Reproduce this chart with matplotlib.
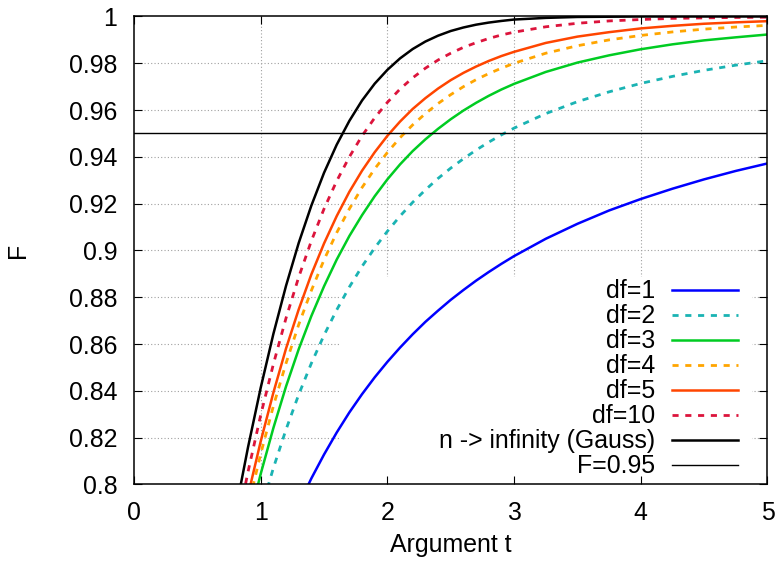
import matplotlib
matplotlib.use("Agg")
import matplotlib.pyplot as plt
from matplotlib.patches import Rectangle
from matplotlib.lines import Line2D

plt.rcParams['font.family'] = ['Liberation Sans', 'DejaVu Sans']

# argument t and read-off values of F for each curve
t = [0.8, 0.9, 1.0, 1.1, 1.2, 1.3, 1.4, 1.5, 1.6, 1.7, 1.8, 1.9, 2.0, 2.1, 2.2, 2.3,
     2.4, 2.5, 2.6, 2.7, 2.8, 2.9, 3.0, 3.25, 3.5, 3.75, 4.0, 4.25, 4.5, 4.75, 5.0]

df1 = [0.7148, 0.7333, 0.7500, 0.7652, 0.7789, 0.7913, 0.8026, 0.8128, 0.8222, 0.8308, 0.8386,
       0.8458, 0.8524, 0.8585, 0.8642, 0.8695, 0.8743, 0.8789, 0.8831, 0.8871, 0.8908, 0.8943,
       0.8976, 0.9050, 0.9114, 0.9171, 0.9220, 0.9264, 0.9304, 0.9340, 0.9372]
df2 = [0.7462, 0.7684, 0.7887, 0.8070, 0.8235, 0.8384, 0.8518, 0.8638, 0.8746, 0.8844, 0.8932,
       0.9011, 0.9082, 0.9147, 0.9206, 0.9259, 0.9308, 0.9352, 0.9392, 0.9429, 0.9463, 0.9494,
       0.9523, 0.9585, 0.9636, 0.9678, 0.9714, 0.9744, 0.9770, 0.9792, 0.9811]
df3 = [0.7589, 0.7828, 0.8045, 0.8241, 0.8419, 0.8578, 0.8720, 0.8847, 0.8961, 0.9062, 0.9151,
       0.9232, 0.9304, 0.9368, 0.9425, 0.9475, 0.9520, 0.9561, 0.9598, 0.9631, 0.9661, 0.9688,
       0.9712, 0.9763, 0.9803, 0.9834, 0.9860, 0.9881, 0.9898, 0.9911, 0.9923]
df4 = [0.7657, 0.7905, 0.8130, 0.8335, 0.8518, 0.8683, 0.8829, 0.8960, 0.9076, 0.9178, 0.9269,
       0.9349, 0.9419, 0.9482, 0.9537, 0.9585, 0.9628, 0.9666, 0.9700, 0.9730, 0.9756, 0.9779,
       0.9800, 0.9843, 0.9875, 0.9900, 0.9919, 0.9934, 0.9946, 0.9955, 0.9962]
df5 = [0.7700, 0.7954, 0.8184, 0.8392, 0.8581, 0.8748, 0.8898, 0.9030, 0.9147, 0.9251, 0.9341,
       0.9420, 0.9490, 0.9551, 0.9605, 0.9651, 0.9692, 0.9728, 0.9759, 0.9786, 0.9810, 0.9831,
       0.9849, 0.9887, 0.9914, 0.9933, 0.9949, 0.9960, 0.9969, 0.9975, 0.9980]
df10 = [0.7789, 0.8054, 0.8296, 0.8514, 0.8711, 0.8886, 0.9041, 0.9178, 0.9297, 0.9400, 0.9490,
        0.9567, 0.9633, 0.9690, 0.9738, 0.9779, 0.9814, 0.9843, 0.9868, 0.9888, 0.9906, 0.9921,
        0.9933, 0.9956, 0.9971, 0.9981, 0.9987, 0.9992, 0.9994, 0.9996, 0.9997]
gauss = [0.7881, 0.8159, 0.8413, 0.8643, 0.8849, 0.9032, 0.9192, 0.9332, 0.9452, 0.9554, 0.9641,
         0.9713, 0.9772, 0.9821, 0.9861, 0.9893, 0.9918, 0.9938, 0.9953, 0.9965, 0.9974, 0.9981,
         0.9987, 0.9994, 0.9998, 0.9999, 1.0000, 1.0000, 1.0000, 1.0000, 1.0000]
f_level = 0.95

labels = ["df=1", "df=2", "df=3", "df=4", "df=5", "df=10", "n -> infinity (Gauss)", "F=0.95"]
xticks = [0, 1, 2, 3, 4, 5]
yticks = [0.8, 0.82, 0.84, 0.86, 0.88, 0.9, 0.92, 0.94, 0.96, 0.98, 1.0]
ytick_labels = ["0.8", "0.82", "0.84", "0.86", "0.88", "0.9", "0.92", "0.94", "0.96", "0.98", "1"]

dash = (0, (2.2, 2.4))
styles = [
    ("#0000ff", "-", 1.8),
    ("#1ab3b3", dash, 2.0),
    ("#00cc22", "-", 1.8),
    ("#ffa500", dash, 2.0),
    ("#ff4500", "-", 1.8),
    ("#dc143c", dash, 2.0),
    ("#000000", "-", 1.8),
    ("#000000", "-", 1.0),
]

fs = 17.9
fig = plt.figure(figsize=(7.79, 5.61), dpi=100)
ax = fig.add_axes([0.1720, 0.1364, 0.8132, 0.8342])
ax.set_xlim(0, 5)
ax.set_ylim(0.8, 1.0)

# grid drawn by hand so the key box can cover it while ticks stay on top
for x in xticks[1:-1]:
    ax.axvline(x, color="#a0a0a0", lw=0.8, ls=(0, (1, 2)), zorder=0.5)
for y in yticks[1:-1]:
    ax.axhline(y, color="#a0a0a0", lw=0.8, ls=(0, (1, 2)), zorder=0.5)

# opaque key background
ax.add_patch(Rectangle((0.3252, 0.0), 0.6503, 0.4434, transform=ax.transAxes,
                       facecolor="white", edgecolor="none", zorder=1))

series = [df1, df2, df3, df4, df5, df10, gauss]
for ys, (c, ls, lw) in zip(series, styles[:7]):
    ax.plot(t, ys, color=c, ls=ls, lw=lw, zorder=2)
ax.plot([0, 5], [f_level, f_level], color=styles[7][0], lw=styles[7][2], zorder=2)

# key, gnuplot style: right aligned text, sample to the right
row0 = 0.4156
step = 0.0534
for i, (lab, (c, ls, lw)) in enumerate(zip(labels, styles)):
    yk = row0 - i * step
    ax.text(0.8224, yk - 0.0174, lab, transform=ax.transAxes, ha="right", va="baseline",
            fontsize=fs, zorder=3)
    ax.add_line(Line2D([0.8493, 0.9534], [yk, yk], transform=ax.transAxes,
                       color=c, ls=ls, lw=lw, zorder=3))

ax.set_xticks(xticks)
ax.set_yticks(yticks)
ax.set_yticklabels(ytick_labels)
ax.tick_params(direction="in", length=5.5, width=0.8, top=True, right=True,
               labelsize=fs, pad=12)
for spine in ax.spines.values():
    spine.set_linewidth(1.1)
    spine.set_zorder(4)

ax.set_xlabel("Argument t", fontsize=fs, labelpad=6)
ax.set_ylabel("F", fontsize=fs, labelpad=28)

fig.savefig("out.png", dpi=100)
